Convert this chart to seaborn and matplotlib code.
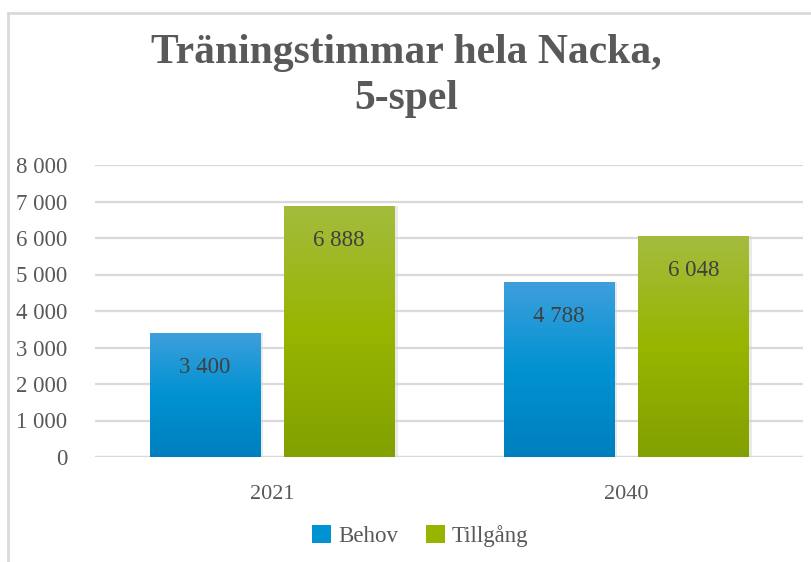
import numpy as np
import pandas as pd
import matplotlib
matplotlib.use("Agg")
import matplotlib.pyplot as plt
import seaborn as sns
from matplotlib.colors import LinearSegmentedColormap
from matplotlib.patches import Patch
from matplotlib.lines import Line2D
from matplotlib.ticker import FuncFormatter, MultipleLocator

# --- DATA ---
years = ["2021", "2040"]
series = ["Behov", "Tillgång"]
behov = [3400, 4788]
tillgang = [6888, 6048]

TITLE = "Träningstimmar hela Nacka,\n5-spel"
TEXT_GREY = "#595959"
GRID_GREY = "#d9d9d9"

# gradient stops per series (top, middle, bottom)
GRADIENTS = {
    "Behov": ["#3f9fdc", "#0092d2", "#007fbe"],
    "Tillgång": ["#a3bc3e", "#97b500", "#82a000"],
}
SOLID = {"Behov": "#0092d2", "Tillgång": "#97b500"}


def fmt_space(v, pos=None):
    return f"{int(round(v)):,}".replace(",", " ")


df = pd.DataFrame({
    "År": years * 2,
    "Serie": [series[0]] * len(years) + [series[1]] * len(years),
    "Timmar": behov + tillgang,
})

sns.set_theme(style="white")
plt.rcParams["font.family"] = ["Liberation Serif", "DejaVu Serif"]

fig = plt.figure(figsize=(8.12, 5.62), dpi=100)
ax = fig.add_axes([95 / 812, 1 - 457 / 562, 708 / 812, 292 / 562])

sns.barplot(data=df, x="År", y="Timmar", hue="Serie", hue_order=series,
            palette=SOLID, width=0.76, gap=0.18, ax=ax, legend=False,
            edgecolor="none", zorder=3)

# gradient fill clipped to each bar
for container, name in zip(ax.containers, series):
    cmap = LinearSegmentedColormap.from_list(name, GRADIENTS[name][::-1])
    vals = behov if name == "Behov" else tillgang
    for patch, val in zip(container.patches, vals):
        x0 = patch.get_x()
        w = patch.get_width()
        h = patch.get_height()
        grad = np.linspace(0, 1, 256).reshape(-1, 1)
        im = ax.imshow(grad, cmap=cmap, origin="lower", aspect="auto",
                       extent=[x0, x0 + w, 0, h], zorder=3.5)
        im.set_clip_path(patch)
        # faint shadow to the right
        ax.add_patch(plt.Rectangle((x0 + w, 0), 0.01, h, color="#d6d6d6",
                                   alpha=0.5, zorder=3, lw=0))
        ax.annotate(fmt_space(val), (x0 + w / 2, h), xytext=(0, -25),
                    textcoords="offset points", ha="center", va="center",
                    fontsize=16.5, color="#404040", zorder=5)

ax.set_xlim(-0.5, 1.5)
ax.set_ylim(0, 8000)

ax.yaxis.set_major_locator(MultipleLocator(1000))
ax.yaxis.set_major_formatter(FuncFormatter(fmt_space))
ax.grid(axis="y", color=GRID_GREY, linewidth=1.6, zorder=0)
ax.grid(axis="x", visible=False)
for s in ax.spines.values():
    s.set_visible(False)
ax.axhline(0, color=GRID_GREY, linewidth=1.6, zorder=2)
ax.tick_params(axis="y", length=0, pad=20, labelsize=16.5, labelcolor=TEXT_GREY)
ax.tick_params(axis="x", length=0, pad=20, labelsize=16, labelcolor=TEXT_GREY)
ax.set_xlabel("")
ax.set_ylabel("")

fig.text(406 / 812, 1 - 76 / 562, TITLE, ha="center", va="center",
         fontsize=30, fontweight="bold", color=TEXT_GREY, linespacing=1.25)

handles = [Patch(facecolor=SOLID[s], edgecolor="none") for s in series]
fig.legend(handles, series, loc="center", bbox_to_anchor=(420 / 812, 1 - 536 / 562),
           ncol=2, frameon=False, fontsize=16.5, labelcolor=TEXT_GREY,
           handlelength=0.85, handleheight=0.85, handletextpad=0.3, columnspacing=1.2)

# outer chart-area border (left and top)
fig.add_artist(Line2D([8 / 812, 8 / 812], [0, 1 - 13 / 562], color=GRID_GREY,
                      linewidth=2, transform=fig.transFigure))
fig.add_artist(Line2D([8 / 812, 1], [1 - 13 / 562, 1 - 13 / 562], color=GRID_GREY,
                      linewidth=2, transform=fig.transFigure))

fig.savefig("out.png", dpi=100)
